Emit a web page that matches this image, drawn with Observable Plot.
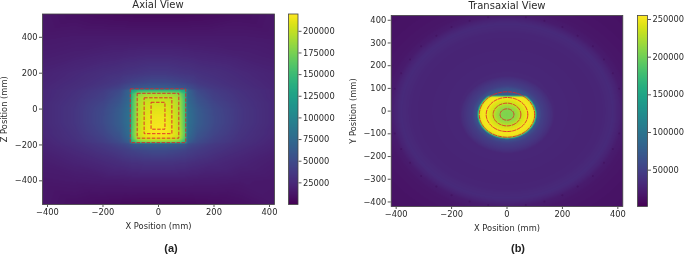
<!DOCTYPE html>
<html><head><meta charset="utf-8">
<script src="https://cdn.jsdelivr.net/npm/d3@7"></script>
<script src="https://cdn.jsdelivr.net/npm/@observablehq/plot@0.6"></script>
<style>
html,body{margin:0;padding:0;background:#fff;width:685px;height:257px;overflow:hidden}
#page{position:relative;width:685px;height:257px;overflow:hidden;font-family:"DejaVu Sans",sans-serif;color:#2a2a2a;filter:blur(0.35px)}
.box{position:absolute;top:0}
.box svg{display:block;background:transparent;overflow:visible}
.t{position:absolute;white-space:nowrap;transform:translateX(-50%);line-height:1}
</style></head><body><div id="page"></div>
<script>
// ---- Axial view: mm positions and image values (x mirrored)
const axialAbsX = [0, 25, 50, 75, 97, 104, 140, 200, 300, 420];
const axialZ = [530, 400, 300, 200, 150, 114, 106, 85, 60, 35, 0, -40, -80, -115, -140, -165, -186, -194, -230, -300, -400, -530];
const axialRows = [
 [5000,5000,5000,5200,5500,5500,6000,7000,9000,13000],
 [15000,15000,15000,15000,15000,15000,15000,15000,15000,14000],
 [24000,24000,24000,23500,23000,23000,22000,21000,19000,17000],
 [36000,36000,35000,34000,33000,33000,31000,29000,25000,21000],
 [48000,48000,46000,44000,42000,41000,36000,32000,27000,22000],
 [66000,66000,64000,61000,58000,54000,44000,36000,29000,23000],
 [140000,140000,140000,138000,128000,70000,48000,38000,30000,24000],
 [190000,190000,187000,180000,145000,72000,52000,40000,31000,24000],
 [200000,200000,198000,190000,148000,74000,56000,42000,32000,24000],
 [205000,205000,202000,192000,150000,76000,59000,45000,33000,25000],
 [210000,209000,205000,194000,152000,80000,63000,48000,34000,25000],
 [214000,213000,208000,196000,155000,82000,64000,49000,34000,25000],
 [216000,215000,210000,198000,155000,82000,64000,49000,34000,25000],
 [218000,217000,212000,200000,158000,80000,61000,47000,33000,24000],
 [218000,217000,213000,202000,160000,78000,58000,45000,32000,24000],
 [212000,211000,207000,198000,155000,73000,54000,42000,31000,23000],
 [175000,175000,172000,165000,135000,66000,50000,40000,30000,22000],
 [68000,68000,66000,64000,60000,54000,46000,37000,29000,22000],
 [50000,50000,48000,46000,44000,42000,38000,33000,26000,20000],
 [32000,32000,32000,31000,31000,30000,28000,25000,21000,17000],
 [17000,17000,17000,17000,17000,17000,16500,16000,15000,14000],
 [5000,5000,5000,5200,5500,5500,6000,7000,9000,13000]
];
// Red dashed boxes of the axial view
const boxHalfX = [100, 75, 50, 25];
const boxTopZ = [110, 85, 60, 35];
const boxBottomZ = [-190, -165, -140, -115];

// ---- Transaxial view: radial profiles
const bgRadius = [0, 200, 300, 340, 370, 385, 400, 420, 450, 500, 600];
const bgValue = [33000, 29000, 27000, 28000, 31000, 32000, 28000, 21000, 17000, 15000, 13000];
const glowRadius = [0, 100, 113, 125, 160, 220];
const glowValue = [72000, 72000, 64000, 50000, 36000, 0];
const discRadius = [0, 20, 40, 55, 70, 85, 95, 100, 104, 108];
const discValue = [205000, 208000, 222000, 238000, 248000, 252000, 248000, 235000, 170000, 90000];
const chordY = [60, 65, 69];
const chordWeight = [1, 0.9, 0];
const discCentreY = -15;
const ringRadii = [100, 75, 50, 25];
// Dark marks around the ring (one quadrant, mirrored)
const markX = [68, 135, 200, 255, 310, 350, 382, 405];
const markY = [413, 398, 370, 332, 286, 227, 167, 99];

// ---- Ticks and labels
const axialXTicks = [-400, -200, 0, 200, 400];
const axialZTicks = [-400, -200, 0, 200, 400];
const transYTicks = [-400, -300, -200, -100, 0, 100, 200, 300, 400];
const axialBarTicks = [25000, 50000, 75000, 100000, 125000, 150000, 175000, 200000];
const transBarTicks = [50000, 100000, 150000, 200000, 250000];

const INK = "#2a2a2a";
const FONT = {fontFamily: "DejaVu Sans", fontSize: "8.3px", color: INK, background: "transparent"};
const fmt = d3.format("d");
const page = document.getElementById("page");

function place(node, left) { const d = document.createElement("div"); d.className = "box"; d.style.left = left + "px"; d.append(node); page.append(d); }
function label(text, x, y, size, bold) {
  const d = document.createElement("div"); d.className = "t"; d.textContent = text;
  d.style.cssText += `left:${x}px;top:${y}px;font-size:${size}px;${bold ? "font-weight:bold;font-family:'Liberation Sans',sans-serif;color:#222;" : ""}`;
  page.append(d);
}
function axes(xLabel, yLabel, yTicks) {
  return [
    Plot.frame({stroke: "#444", strokeWidth: 0.8}),
    Plot.axisX({ticks: axialXTicks, tickFormat: fmt, tickSize: 3, tickPadding: 2, label: xLabel, labelAnchor: "center", labelArrow: "none", labelOffset: 24, stroke: "#555", fill: INK}),
    Plot.axisY({ticks: yTicks, tickFormat: fmt, tickSize: 3, tickPadding: 2, label: yLabel, labelAnchor: "center", labelArrow: "none", labelOffset: 41, stroke: "#555", fill: INK})
  ];
}
function colorbar(domain, ticks, top, bottom, width, gutter) {
  return Plot.plot({
    width, height: 257, marginLeft: 0, marginRight: width - gutter, marginTop: top, marginBottom: bottom, style: FONT,
    x: {domain: [0, 1], axis: null},
    y: {domain},
    color: {type: "linear", scheme: "viridis", domain},
    marks: [
      Plot.raster({fill: (x, y) => y, x1: 0, x2: 1, y1: domain[0], y2: domain[1], pixelSize: 1}),
      Plot.frame({stroke: "#444", strokeWidth: 0.8}),
      Plot.axisY({anchor: "right", ticks, tickFormat: fmt, tickSize: 3, tickPadding: 2, label: null, stroke: "#555", fill: INK})
    ]
  });
}

// Axial panel
const axialPts = axialZ.flatMap((z, i) => axialAbsX.flatMap((ax, j) => {
  const v = axialRows[i][j];
  return ax === 0 ? [{x: 0, y: z, v}] : [{x: -ax, y: z, v}, {x: ax, y: z, v}];
}));
const axialDomainColor = [0, 220000];
place(Plot.plot({
  width: 345, height: 257, marginLeft: 42, marginRight: 71, marginTop: 13.5, marginBottom: 53, style: FONT,
  x: {domain: [-418, 418]}, y: {domain: [-532, 530]},
  color: {type: "linear", scheme: "viridis", domain: axialDomainColor},
  marks: [
    Plot.raster(axialPts, {x: "x", y: "y", fill: "v", x1: -418, x2: 418, y1: -532, y2: 530, pixelSize: 1, interpolate: "barycentric"}),
    Plot.rect(boxHalfX.map((h, i) => ({h, t: boxTopZ[i], b: boxBottomZ[i]})), {x1: d => -d.h, x2: d => d.h, y1: "b", y2: "t", fill: "none", stroke: "#e0202a", strokeWidth: 0.9, strokeDasharray: "3.5,1.5", inset: 0}),
    ...axes("X Position (mm)", "Z Position (mm)", axialZTicks)
  ]
}), 0);
place(colorbar(axialDomainColor, axialBarTicks, 13.5, 53, 57, 9.5), 288);

// Transaxial panel
const bg = d3.scaleLinear(bgRadius, bgValue).clamp(true);
const glow = d3.scaleLinear(glowRadius, glowValue).clamp(true);
const disc = d3.scaleLinear(discRadius, discValue).clamp(true);
const chord = d3.scaleLinear(chordY, chordWeight).clamp(true);
const transFill = (x, y) => {
  const r1 = Math.hypot(x, y - discCentreY);
  const base = Math.max(bg(Math.hypot(x, y)), glow(r1));
  const t = r1 <= 108 ? chord(y) : 0;
  return base + Math.max(0, disc(r1) - base) * t;
};
const transDomainColor = [1800, 255300];
const marks = markX.flatMap((x, i) => [[x, markY[i]], [-x, markY[i]], [x, -markY[i]], [-x, -markY[i]]]);
const circles = ringRadii.flatMap(r => d3.range(0, 361, 3).map(a => ({r, x: r * Math.cos(a * Math.PI / 180), y: discCentreY + r * Math.sin(a * Math.PI / 180)})));
place(Plot.plot({
  width: 340, height: 257, marginLeft: 45.7, marginRight: 62.7, marginTop: 15, marginBottom: 51, style: FONT,
  x: {domain: [-418, 418]}, y: {domain: [-420, 421]},
  color: {type: "linear", scheme: "viridis", domain: transDomainColor},
  marks: [
    Plot.raster({fill: transFill, x1: -418, x2: 418, y1: -420, y2: 421, pixelSize: 1}),
    Plot.dot(marks, {x: "0", y: "1", r: 1, fill: "#3b0a55", fillOpacity: 0.4, clip: true}),
    Plot.line(circles, {x: "x", y: "y", z: "r", stroke: "#e0202a", strokeWidth: 0.9, strokeDasharray: "3.5,1.5"}),
    ...axes("X Position (mm)", "Y Position (mm)", transYTicks)
  ]
}), 345);
place(colorbar(transDomainColor, transBarTicks, 15, 51, 48.3, 10), 636.7);

label("Axial View", 158, 0, 10);
label("Transaxial View", 507, 1, 10);
label("(a)", 171, 243, 11, true);
label("(b)", 518, 243, 11, true);
</script></body></html>
